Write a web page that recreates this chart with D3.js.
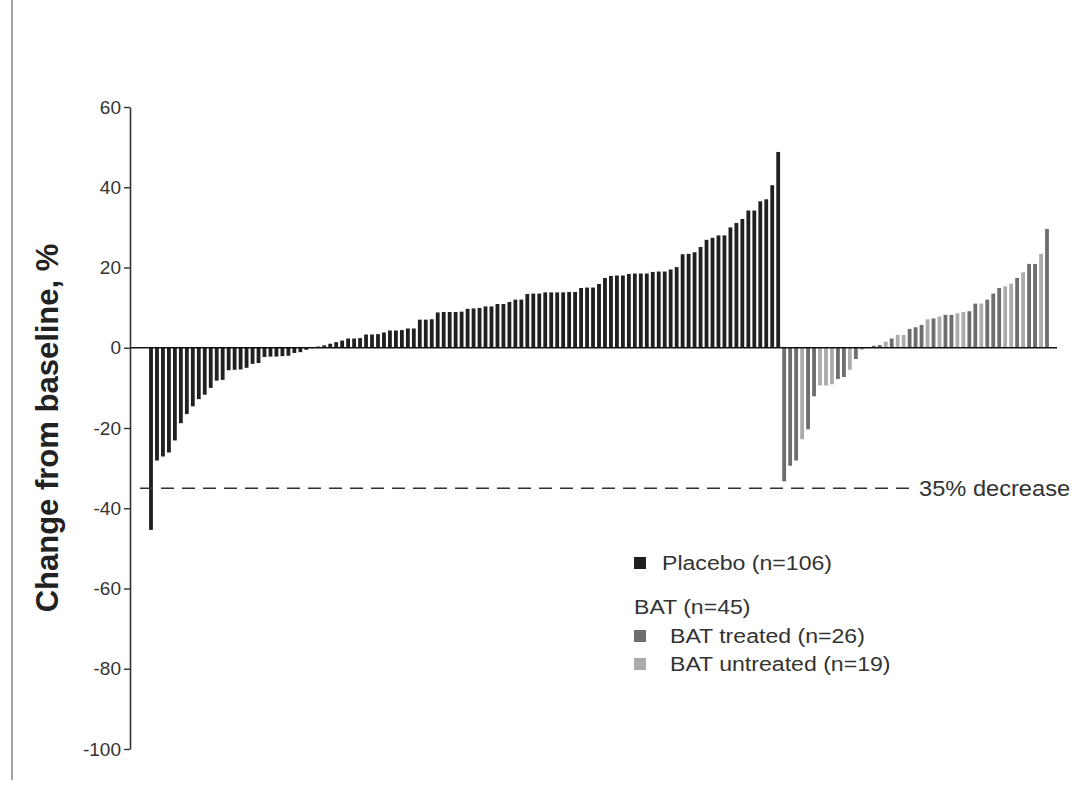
<!DOCTYPE html>
<html>
<head>
<meta charset="utf-8">
<script src="https://cdn.jsdelivr.net/npm/d3@7"></script>
<style>
  html, body { margin: 0; padding: 0; background: #fff; }
  svg { display: block; font-family: "Liberation Sans", Arial, sans-serif; }
</style>
</head>
<body>
<svg id="chart" width="1079" height="810"></svg>
<script>
// ---- data ----
const placeboValues = [
  -45.4, -28.1, -27.1, -26.1, -23.1, -18.8, -16.5, -14.6, -12.8, -11.7,
  -10.0, -8.2, -8.0, -5.6, -5.5, -5.4, -5.0, -4.0, -3.8, -2.3,
  -2.2, -2.2, -2.1, -2.0, -1.3, -1.1, -0.5, -0.1,
  0.3, 0.6, 1.0, 1.4, 1.8, 2.3, 2.3, 2.4, 3.3, 3.3,
  3.4, 3.8, 4.3, 4.3, 4.4, 4.8, 4.8, 7.0, 7.0, 7.1,
  8.8, 8.9, 8.9, 8.9, 9.0, 9.7, 9.8, 9.9, 10.3, 10.3,
  10.9, 10.9, 11.4, 12.0, 12.0, 13.4, 13.5, 13.5, 13.8, 13.8,
  13.8, 13.8, 13.9, 13.9, 14.9, 15.0, 15.0, 15.9, 17.4, 17.9,
  18.0, 18.0, 18.4, 18.5, 18.5, 18.5, 18.9, 19.0, 19.0, 19.5,
  20.1, 23.3, 23.4, 23.8, 25.1, 26.9, 27.4, 28.0, 28.0, 30.0,
  31.1, 32.1, 34.2, 34.2, 36.5, 37.0, 40.5, 48.8
];
const batValues = [
  -33.3, -29.4, -28.1, -22.8, -20.3, -12.1, -9.4, -9.4, -9.1, -7.8,
  -7.3, -5.5, -2.8, -0.5, 0.0, 0.5, 0.7, 1.5, 2.3, 3.2,
  3.2, 4.7, 5.1, 5.7, 7.1, 7.3, 7.8, 8.2, 8.2, 8.6,
  8.9, 9.1, 11.0, 11.0, 12.0, 13.5, 14.9, 15.3, 16.0, 17.4,
  18.8, 20.9, 20.9, 23.4, 29.6
];
const batGroups = [
  "T","T","T","U","T","T","U","U","U","T",
  "T","U","T","U","U","T","T","U","T","U",
  "U","T","T","T","U","T","U","T","T","U",
  "U","T","T","U","T","T","T","U","U","T",
  "U","T","T","U","T"
];
const yTicks = [60, 40, 20, 0, -20, -40, -60, -80, -100];
const thresholdValue = -35;
const thresholdLabel = "35% decrease";
const yTitle = "Change from baseline, %";
const legendPlacebo = "Placebo (n=106)";
const legendBatHeader = "BAT (n=45)";
const legendTreated = "BAT treated (n=26)";
const legendUntreated = "BAT untreated (n=19)";

// ---- styles ----
const colors = { P: "#202020", T: "#6d6d6d", U: "#ababab" };
const textColor = "#333";

// ---- build rows ----
const rows = placeboValues.map((v, i) => ({ idx: i, value: v, group: "P" }))
  .concat(batValues.map((v, i) => ({ idx: placeboValues.length + i, value: v, group: batGroups[i] })));

const svg = d3.select("#chart");

const x = d3.scalePoint()
  .domain(rows.map(d => d.idx))
  .range([151, 1047]);
const y = d3.scaleLinear().domain([-100, 60]).range([749, 107]);
const barW = 3.8;

// left frame line
svg.append("line")
  .attr("x1", 12).attr("x2", 12).attr("y1", 0).attr("y2", 780)
  .attr("stroke", "#666").attr("stroke-width", 1.2);

// bars
svg.append("g").selectAll("rect").data(rows).join("rect")
  .attr("x", d => x(d.idx) - barW / 2)
  .attr("width", barW)
  .attr("y", d => y(Math.max(0, d.value)))
  .attr("height", d => Math.abs(y(d.value) - y(0)))
  .attr("fill", d => colors[d.group]);

// zero baseline
svg.append("line")
  .attr("x1", 130).attr("x2", 1057)
  .attr("y1", y(0)).attr("y2", y(0))
  .attr("stroke", "#111").attr("stroke-width", 1.6);

// threshold dashed line
svg.append("line")
  .attr("x1", 140).attr("x2", 912)
  .attr("y1", y(thresholdValue)).attr("y2", y(thresholdValue))
  .attr("stroke", "#333").attr("stroke-width", 1.6)
  .attr("stroke-dasharray", "13,8");
svg.append("text")
  .attr("x", 919).attr("y", y(thresholdValue) + 7.5)
  .attr("font-size", 21.5).attr("fill", textColor)
  .attr("transform", `translate(${919 * (1 - 1.1)},0) scale(1.1,1)`)
  .text(thresholdLabel);

// y axis
const yAxis = d3.axisLeft(y).tickValues(yTicks).tickSize(6).tickSizeOuter(0)
  .tickPadding(3).tickFormat(d => String(d));
const gy = svg.append("g").attr("transform", "translate(130,0)").call(yAxis);
gy.attr("font-size", null).attr("font-family", null);
gy.select(".domain").attr("stroke", "#333").attr("stroke-width", 1.6);
gy.selectAll(".tick line").attr("stroke", "#333").attr("stroke-width", 1.4);
gy.selectAll(".tick text")
  .style("font-size", "19px").attr("fill", textColor)
  .style("font-family", "'Liberation Sans', Arial, sans-serif");

// y title
svg.append("text")
  .attr("transform", "translate(58,428) rotate(-90)")
  .attr("text-anchor", "middle")
  .attr("font-size", 31).attr("font-weight", "bold").attr("fill", "#222")
  .text(yTitle);

// legend
const legend = svg.append("g");
const legendItems = [
  { kind: "swatch", color: colors.P, label: legendPlacebo, cy: 563, tx: 662 },
  { kind: "header", label: legendBatHeader, cy: 607, tx: 634 },
  { kind: "swatch", color: colors.T, label: legendTreated, cy: 636, tx: 670 },
  { kind: "swatch", color: colors.U, label: legendUntreated, cy: 664, tx: 670 }
];
legendItems.forEach(it => {
  if (it.kind === "swatch") {
    legend.append("rect")
      .attr("x", 634).attr("y", it.cy - 6).attr("width", 12).attr("height", 12)
      .attr("fill", it.color);
  }
  legend.append("text")
    .attr("x", it.tx).attr("y", it.cy + 7.5)
    .attr("font-size", 21).attr("fill", textColor)
    .attr("transform", `translate(${it.tx * (1 - 1.1)},0) scale(1.1,1)`)
    .text(it.label);
});
</script>
</body>
</html>
